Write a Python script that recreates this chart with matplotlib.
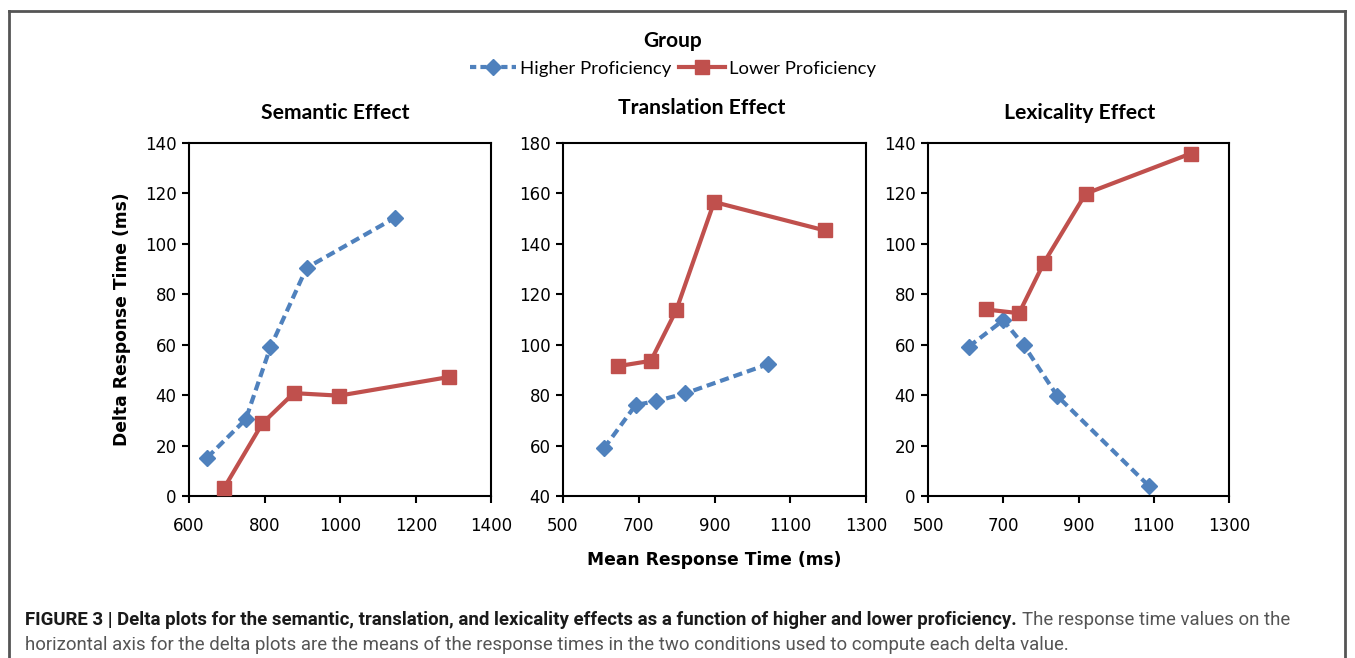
import matplotlib
matplotlib.use('Agg')
import matplotlib.pyplot as plt
from matplotlib.lines import Line2D

# Semantic effect
sem_hi_x = [648, 750, 815, 911, 1144]
sem_hi_y = [15.2, 30.4, 58.9, 90.5, 110.3]
sem_lo_x = [692, 794, 877, 997, 1288]
sem_lo_y = [3.0, 28.8, 40.8, 39.8, 47.2]

# Translation effect
tra_hi_x = [608, 692, 745, 823, 1040]
tra_hi_y = [58.9, 76.1, 77.6, 80.7, 92.2]
tra_lo_x = [645, 732, 799, 899, 1192]
tra_lo_y = [91.5, 93.6, 113.7, 156.6, 145.3]

# Lexicality effect
lex_hi_x = [608, 700, 755, 844, 1087]
lex_hi_y = [59.2, 69.7, 59.7, 39.6, 4.0]
lex_lo_x = [653, 742, 808, 919, 1198]
lex_lo_y = [74.0, 72.5, 92.5, 119.9, 135.8]

titles = ['Semantic Effect', 'Translation Effect', 'Lexicality Effect']
xlims = [(600, 1400), (500, 1300), (500, 1300)]
xticks = [[600, 800, 1000, 1200, 1400], [500, 700, 900, 1100, 1300], [500, 700, 900, 1100, 1300]]
ylims = [(0, 140), (40, 180), (0, 140)]
yticks = [range(0, 141, 20), range(40, 181, 20), range(0, 141, 20)]

BLUE = '#4F81BD'
RED = '#C0504D'
W, H = 1355, 658

plt.rcParams['font.family'] = ['DejaVu Sans']
fig = plt.figure(figsize=(W / 100, H / 100), dpi=100)


def px(x0, y0, x1, y1):
    return [x0 / W, 1 - y1 / H, (x1 - x0) / W, (y1 - y0) / H]


boxes = [px(189, 143, 491.5, 496), px(563, 143, 866, 496), px(928, 143, 1229, 496)]
data = [(sem_hi_x, sem_hi_y, sem_lo_x, sem_lo_y),
        (tra_hi_x, tra_hi_y, tra_lo_x, tra_lo_y),
        (lex_hi_x, lex_hi_y, lex_lo_x, lex_lo_y)]
title_pos = [(335, 113), (702, 108), (1080, 113)]

for i in range(3):
    ax = fig.add_axes(boxes[i])
    hx, hy, lx, ly = data[i]
    ax.plot(hx, hy, color=BLUE, lw=3, ls=(0, (2.2, 1.2)), marker='D', ms=8,
            clip_on=False, zorder=3)
    ax.plot(lx, ly, color=RED, lw=3, marker='s', ms=10, clip_on=False, zorder=3)
    ax.set_xlim(*xlims[i])
    ax.set_ylim(*ylims[i])
    ax.set_xticks(xticks[i])
    ax.set_yticks(list(yticks[i]))
    for s in ax.spines.values():
        s.set_linewidth(1.5)
        s.set_color('black')
    ax.tick_params(direction='out', length=5, width=1.5, labelsize=12, pad=4)
    ax.tick_params(axis='x', pad=10)
    fig.text(title_pos[i][0] / W, 1 - title_pos[i][1] / H, titles[i],
             ha='center', va='center', fontsize=15.2, fontweight='bold',
             family=['Lato', 'DejaVu Sans'])
    if i == 0:
        ax.set_ylabel('Delta Response Time (ms)', fontsize=12.3, fontweight='bold',
                      labelpad=10)

fig.text(714 / W, 1 - 560 / H, 'Mean Response Time (ms)', ha='center', va='center',
         fontsize=12.3, fontweight='bold')

# legend
handles = [Line2D([], [], color=BLUE, lw=3, ls=(0, (1.5, 1)), marker='D', ms=8),
           Line2D([], [], color=RED, lw=3, marker='s', ms=10)]
leg = fig.legend(handles, ['Higher Proficiency', 'Lower Proficiency'], ncol=2,
                 loc='center', bbox_to_anchor=(673 / W, 1 - 54 / H), frameon=False,
                 title='Group', handlelength=2.5, handletextpad=0.2, columnspacing=0.4,
                 prop={'family': ['Lato', 'DejaVu Sans'], 'size': 13.3})
leg.get_title().set_fontweight('bold')
leg.get_title().set_fontsize(15)
leg.get_title().set_family(['Lato', 'DejaVu Sans'])

# outer frame
frame = dict(color='#555555', lw=2, transform=fig.transFigure, clip_on=False)
fig.add_artist(Line2D([9 / W, 1345 / W], [1 - 11 / H, 1 - 11 / H], **frame))
fig.add_artist(Line2D([9 / W, 9 / W], [0, 1 - 11 / H], **frame))
fig.add_artist(Line2D([1345 / W, 1345 / W], [0, 1 - 11 / H], **frame))

# caption
cap_fam = ['Roboto', 'DejaVu Sans']
bold_txt = ('FIGURE 3 | Delta plots for the semantic, translation, and lexicality '
            'effects as a function of higher and lower proficiency.')
t1 = fig.text(25 / W, 1 - 620 / H, bold_txt, ha='left', va='center', fontsize=13.4,
              fontweight='bold', family=cap_fam, color='#1a1a1a')
fig.canvas.draw()
bb = t1.get_window_extent()
fig.text((bb.x1 + 5) / W, 1 - 620 / H, 'The response time values on the',
         ha='left', va='center', fontsize=13.4, family=cap_fam, color='#555555')
fig.text(25 / W, 1 - 645 / H,
         'horizontal axis for the delta plots are the means of the response times in '
         'the two conditions used to compute each delta value.',
         ha='left', va='center', fontsize=13.4, family=cap_fam, color='#555555')

fig.savefig('out.png', dpi=100)
